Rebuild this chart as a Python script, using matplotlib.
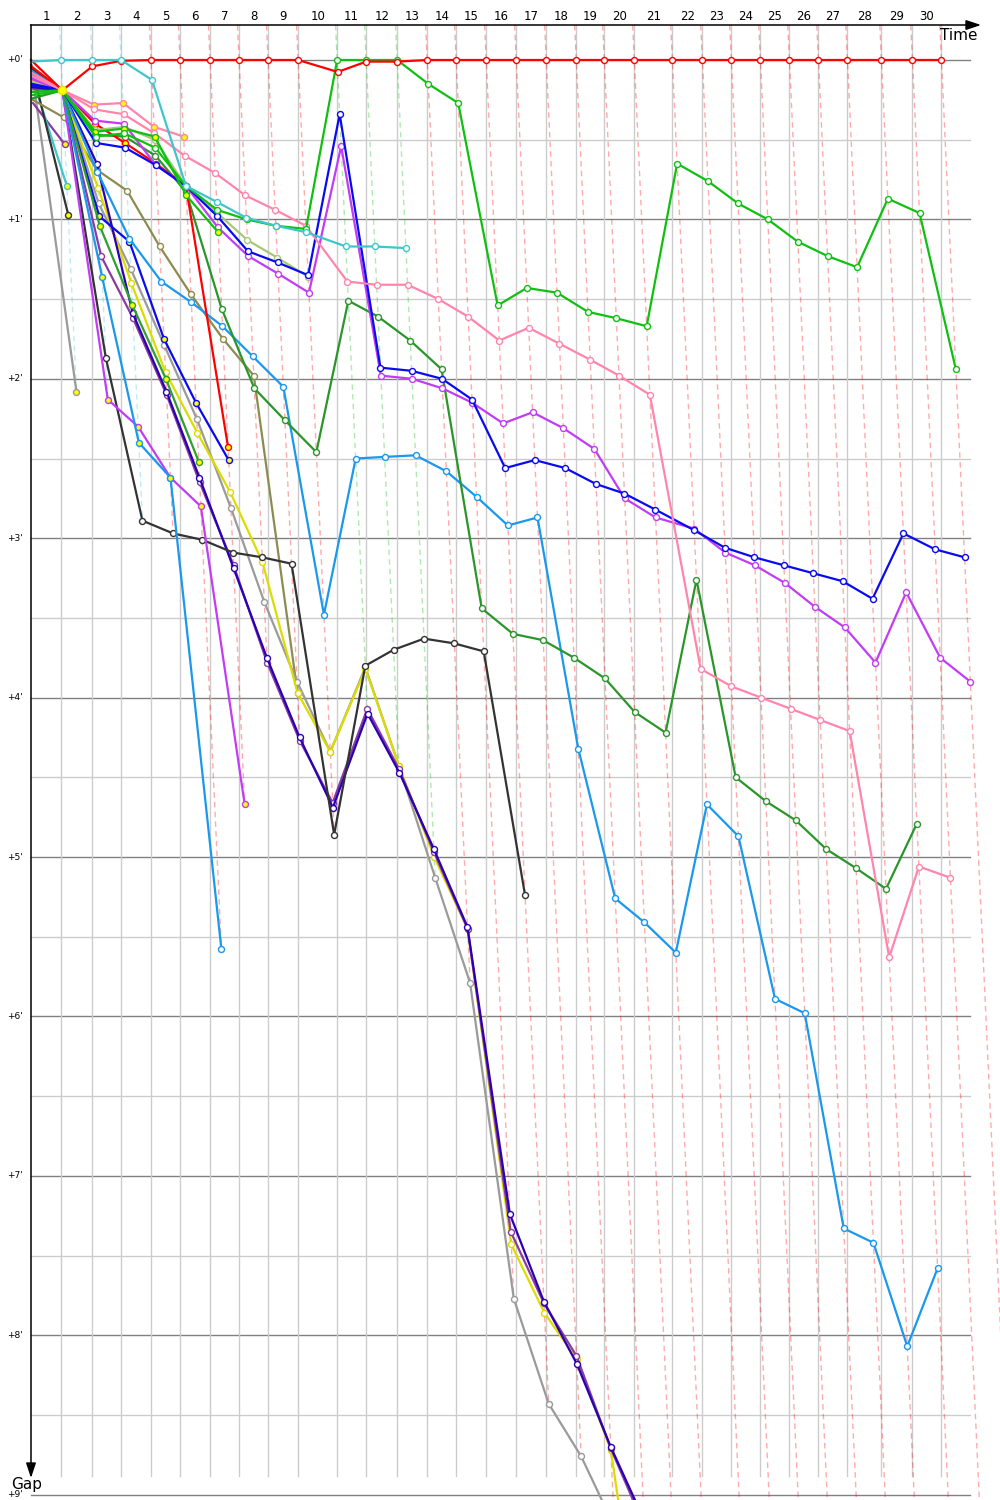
import matplotlib
matplotlib.use("Agg")
import matplotlib.pyplot as plt

# ---------------- data ----------------
# leader lap times (seconds), laps 1..30
leader_lap_s = [243, 251, 235, 243, 235, 243, 235, 235, 243, 316,
                235, 251, 243, 235, 243, 243, 243, 243, 227, 243,
                308, 243, 235, 235, 235, 235, 235, 275, 251, 235]
lap_labels = [str(i) for i in range(1, 31)]
gap_ticks = [0, 1, 2, 3, 4, 5, 6, 7, 8, 9]
gap_tick_labels = ["+0'", "+1'", "+2'", "+3'", "+4'", "+5'", "+6'", "+7'", "+8'", "+9'"]

# gaps to the leader in minutes, index = lap (0 = start)
red = [0.0, 0.19, 0.04, 0.005, 0.0, 0.0, 0.0, 0.0, 0.0, 0.0, 0.075, 0.01, 0.01,
       0.0, 0.0, 0.0, 0.0, 0.0, 0.0, 0.0, 0.0, 0.0, 0.0, 0.0, 0.0, 0.0, 0.0, 0.0, 0.0, 0.0, 0.0]
turq = [0.01, 0.0, 0.0, 0.0, 0.125, 0.79, 0.89, 0.99, 1.04, 1.08, 1.17, 1.17, 1.18]
green1 = [0.22, 0.19, 0.48, 0.46, 0.55, 0.79, 0.94, 1.00, 1.04, 1.06, 0.0, 0.0, 0.0, 0.15, 0.27,
          1.54, 1.43, 1.46, 1.58, 1.62, 1.67, 0.65, 0.76, 0.90, 1.00, 1.14, 1.23, 1.30, 0.87, 0.96, 1.94]
green2 = [0.20, 0.19, 0.45, 0.43, 0.48, 0.85, 1.08]
pink1 = [0.10, 0.19, 0.31, 0.34, 0.46, 0.60, 0.71, 0.85, 0.94, 1.04, 1.39, 1.41, 1.41, 1.50, 1.61,
         1.76, 1.68, 1.78, 1.88, 1.98, 2.10, 3.82, 3.93, 4.00, 4.07, 4.14, 4.21, 5.63, 5.06, 5.13]
pink2 = [0.08, 0.19, 0.28, 0.27, 0.42, 0.48]
blue1 = [0.15, 0.19, 0.52, 0.55, 0.66, 0.79, 0.98, 1.20, 1.27, 1.35, 0.34, 1.93, 1.95, 2.00, 2.13,
         2.56, 2.51, 2.56, 2.66, 2.72, 2.82, 2.95, 3.06, 3.12, 3.17, 3.22, 3.27, 3.38, 2.97, 3.07, 3.12]
mag1 = [0.12, 0.19, 0.38, 0.40, 0.66, 0.79, 1.05, 1.23, 1.34, 1.46, 0.54, 1.98, 2.00, 2.06, 2.15,
        2.28, 2.21, 2.31, 2.44, 2.75, 2.87, 2.94, 3.09, 3.17, 3.28, 3.43, 3.56, 3.78, 3.34, 3.75, 3.90]
khaki = [0.14, 0.19, 0.44, 0.42, 0.50, 0.79, 0.96, 1.13, 1.24, 1.36]
red2 = [0.04, 0.19, 0.40, 0.52, 0.65, 0.79, 2.43]
dgreen1 = [0.24, 0.19, 0.47, 0.48, 0.60, 0.83, 1.56, 2.06, 2.26, 2.46, 1.51, 1.61, 1.76, 1.94, 3.44,
           3.60, 3.64, 3.75, 3.88, 4.09, 4.22, 3.26, 4.50, 4.65, 4.77, 4.95, 5.07, 5.20, 4.79]
dgreen2 = [0.20, 0.19, 1.04, 1.54, 2.00, 2.52]
sky1 = [0.09, 0.19, 1.36, 2.40, 2.62, 5.58]
sky2 = [0.07, 0.19, 0.70, 1.12, 1.39, 1.52, 1.67, 1.86, 2.05, 3.48, 2.50, 2.49, 2.48, 2.58, 2.74,
        2.92, 2.87, 4.32, 5.26, 5.41, 5.60, 4.67, 4.87, 5.89, 5.98, 7.33, 7.42, 8.07, 7.58]
blue2 = [0.16, 0.19, 0.98, 1.14, 1.75, 2.15, 2.51]
mag2 = [0.11, 0.19, 2.13, 2.30, 2.62, 2.80, 4.67]
black1 = [0.05, 0.19, 1.87, 2.89, 2.97, 3.01, 3.09, 3.12, 3.16, 4.86, 3.80, 3.70, 3.63, 3.66, 3.71, 5.24]
indigo = [0.17, 0.19, 0.65, 1.59, 2.08, 2.62, 3.19, 3.75, 4.25, 4.69, 4.10, 4.47, 4.95, 5.44, 7.24,
          7.79, 8.18, 8.70, 9.16]
dpurple = [0.18, 0.19, 1.23, 1.62, 2.10, 2.65, 3.17, 3.78, 4.27, 4.66, 4.07, 4.45, 4.97, 5.45, 7.35,
           7.80, 8.13, 8.71, 9.20]
yellow = [0.13, 0.19, 0.80, 1.40, 1.96, 2.34, 2.71, 3.15, 3.97, 4.34, 3.82, 4.43, 5.00, 5.45, 7.43,
          7.86, 8.15, 8.72, 10.6]
grey1 = [0.06, 0.19, 0.90, 1.31, 1.79, 2.25, 2.81, 3.40, 3.90, 4.34, 3.81, 4.43, 5.13, 5.79, 7.77,
         8.43, 8.76, 9.20]
olive = [0.25, 0.36, 0.69, 0.82, 1.17, 1.47, 1.75, 1.98, 3.97]
black2 = [0.03, 0.97]
turq2 = [0.10, 0.79]
dpurple2 = [0.27, 0.53]
grey2 = [0.04, 2.08]

# (series, colour, laps with yellow-filled markers)
series = [
    (turq, '#3ec6cc', []),
    (red, '#ff0000', [1]),
    (green1, '#10c010', []),
    (green2, '#10c010', [2, 3, 4, 5, 6]),
    (pink1, '#ff85ad', []),
    (pink2, '#ff85ad', [2, 3, 4, 5]),
    (blue1, '#0a0af0', []),
    (mag1, '#c23cf5', []),
    (khaki, '#a8c878', []),
    (red2, '#ff0000', [2, 3, 4, 5, 6]),
    (dgreen1, '#2a962a', []),
    (dgreen2, '#2f9f2f', [2, 3, 4, 5]),
    (sky1, '#1a98ee', [2, 3, 4]),
    (sky2, '#1a98ee', []),
    (blue2, '#0a0af0', [2, 3, 4, 5, 6]),
    (mag2, '#c23cf5', [2, 3, 4, 5, 6]),
    (black1, '#333333', []),
    (indigo, '#2a00b4', []),
    (dpurple, '#8a3aa0', []),
    (yellow, '#dcdc00', []),
    (grey1, '#9a9a9a', []),
    (olive, '#8c8c50', []),
    (black2, '#333333', [1]),
    (turq2, '#3ec6cc', [1]),
    (dpurple2, '#8a3aa0', [1]),
    (grey2, '#9a9a9a', [1]),
]

# ---------------- layout ----------------
SX = 7.41     # px per minute (time axis)
SY = 159.4    # px per minute (gap axis)
X0, Y0 = 31, 60


def fx(px):
    return (px - X0) / SX


def fy(py):
    return (py - Y0) / SY


cum = [0.0]
for s in leader_lap_s:
    cum.append(cum[-1] + s / 60.0)

fig = plt.figure(figsize=(10, 15), dpi=100)
ax = fig.add_axes([0, 0, 1, 1])
ax.set_xlim(fx(0), fx(1000))
ax.set_ylim(fy(1500), fy(0))
ax.axis('off')

ybot = fy(1500)
ytop = fy(25)

# horizontal grid
for m in gap_ticks:
    ax.plot([0, fx(970)], [m, m], color='#808080', lw=1, zorder=1)
    ax.plot([0, fx(970)], [m + 0.5, m + 0.5], color='#cccccc', lw=1, zorder=1)

# vertical lap lines
for n in range(1, 31):
    ax.plot([cum[n], cum[n]], [ytop, fy(1476)], color='#cccccc', lw=1, zorder=1)

# slanted lap lines (own-time of each car at lap n), coloured by the lap leader
for n in range(1, 31):
    gmax = 0.0
    lead = None
    lead_gap = 99
    for g, col, _ in series:
        if n < len(g):
            if g[n] > gmax:
                gmax = g[n]
            if g[n] < lead_gap:
                lead_gap = g[n]
                lead = col
        elif g[-1] > ybot:
            gmax = 99
    gmax = min(gmax, ybot + 0.1)
    ax.plot([cum[n] + ytop, cum[n] + gmax], [ytop, gmax], color=lead, alpha=0.33,
            lw=1, ls=(0, (4, 3)), zorder=2)

# series
nser = len(series)
for i, (g, col, ylaps) in enumerate(series):
    z = 10 + (nser - i)
    laps = range(len(g))
    xs = [cum[n] + g[n] for n in laps]
    ax.plot(xs, g, color=col, lw=1.6, zorder=z, solid_joinstyle='round')
    wx = [xs[n] for n in laps if n > 0 and n not in ylaps]
    wy = [g[n] for n in laps if n > 0 and n not in ylaps]
    ax.plot(wx, wy, ls='none', marker='o', ms=4.3, mfc='white', mec=col, mew=1.0, zorder=z)
    if ylaps:
        yx = [xs[n] for n in ylaps]
        yy = [g[n] for n in ylaps]
        big = 5.8 if ylaps == [1] and col == '#ff0000' else 4.3
        ax.plot(yx, yy, ls='none', marker='o', ms=big, mfc='#ffff00', mec=col if big < 5 else '#e8e800',
                mew=1.0, zorder=z + (40 if big > 5 else 0))

# axes with arrows
ax.annotate('', xy=(fx(981), ytop), xytext=(fx(30.5), ytop),
            arrowprops=dict(arrowstyle='-|>,head_length=0.9,head_width=0.3', color='black',
                            lw=1.1, shrinkA=0, shrinkB=0), zorder=60)
ax.annotate('', xy=(fx(31), fy(1478)), xytext=(fx(31), ytop),
            arrowprops=dict(arrowstyle='-|>,head_length=0.9,head_width=0.3', color='black',
                            lw=1.1, shrinkA=0, shrinkB=0), zorder=60)

# labels
for n, lab in enumerate(lap_labels, start=1):
    ax.text((cum[n - 1] + cum[n]) / 2, fy(17), lab, ha='center', va='center', fontsize=8.5,
            color='black')
for m, lab in zip(gap_ticks, gap_tick_labels):
    ax.text(fx(23), m, lab, ha='right', va='center', fontsize=6.5, color='black')
ax.text(fx(977), fy(35), 'Time', ha='right', va='center', fontsize=11)
ax.text(fx(11), fy(1484), 'Gap', ha='left', va='center', fontsize=11, zorder=70)

fig.savefig('out.png', dpi=100)
